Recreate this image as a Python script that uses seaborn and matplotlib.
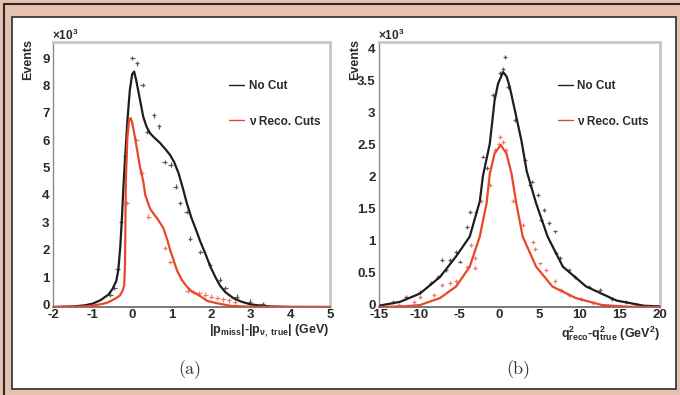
import numpy as np
import pandas as pd
import matplotlib
matplotlib.use("Agg")
import matplotlib.pyplot as plt
import seaborn as sns
from matplotlib.patches import Rectangle
from matplotlib.lines import Line2D
from matplotlib.ticker import MultipleLocator, FuncFormatter
import matplotlib.transforms as mtransforms

# ---------------- data ----------------
# (a) |p_miss|-|p_nu,true|  (x10^3 events)
a_nocut_x = [-2, -1.5, -1.2, -1.0, -0.8, -0.6, -0.5, -0.4, -0.35, -0.3, -0.26, -0.22, -0.18, -0.12, -0.06,
             0.0, 0.05, 0.1, 0.2, 0.28, 0.36, 0.45, 0.55, 0.7, 0.85, 0.96, 1.06, 1.17, 1.28, 1.38, 1.5,
             1.62, 1.72, 1.85, 1.97, 2.1, 2.22, 2.35, 2.55, 2.75, 2.98, 3.25, 3.5, 4.0, 5.0]
a_nocut_y = [0.0, 0.02, 0.06, 0.12, 0.25, 0.45, 0.65, 0.95, 1.35, 2.2, 3.2, 4.4, 5.4, 6.8, 7.9,
             8.5, 8.6, 8.3, 7.56, 6.95, 6.6, 6.35, 6.2, 6.0, 5.75, 5.55, 5.3, 4.9, 4.35, 3.8, 3.25,
             2.8, 2.4, 1.95, 1.5, 1.1, 0.78, 0.55, 0.33, 0.2, 0.1, 0.05, 0.02, 0.0, 0.0]
a_reco_x = [-2, -1.2, -1.0, -0.8, -0.64, -0.5, -0.4, -0.31, -0.24, -0.2, -0.18, -0.16, -0.12, -0.08, -0.04,
            0.0, 0.07, 0.13, 0.2, 0.28, 0.33, 0.45, 0.53, 0.65, 0.79, 0.9, 0.96, 1.05, 1.13, 1.25, 1.38,
            1.5, 1.72, 1.9, 2.2, 2.5, 3.0, 5.0]
a_reco_y = [0.0, 0.02, 0.05, 0.1, 0.15, 0.25, 0.33, 0.42, 0.6, 0.8, 1.6, 4.6, 6.2, 6.8, 6.9,
            6.75, 6.2, 5.7, 5.1, 4.6, 4.1, 3.6, 3.43, 3.2, 2.88, 2.4, 2.08, 1.7, 1.35, 1.0, 0.75,
            0.58, 0.4, 0.22, 0.12, 0.04, 0.01, 0.0]
a_nocut_px = [-0.55, -0.45, -0.37, -0.28, -0.18, 0.0, 0.12, 0.27, 0.38, 0.55, 0.68, 0.82, 0.97, 1.1,
              1.21, 1.38, 1.46, 1.72, 1.97, 2.22, 2.35, 2.64, 2.98, 3.3]
a_nocut_py = [0.45, 0.7, 1.4, 3.1, 5.5, 9.1, 8.9, 8.1, 6.4, 7.0, 6.6, 5.3, 5.2, 4.4,
              3.79, 3.48, 2.5, 2.0, 1.53, 1.0, 0.7, 0.38, 0.2, 0.1]
a_reco_px = [-0.14, 0.11, 0.24, 0.41, 0.83, 0.96, 1.4, 1.55, 1.7, 1.85, 2.0, 2.15, 2.3, 2.45, 2.6]
a_reco_py = [3.8, 6.1, 4.9, 3.3, 2.15, 1.65, 0.6, 0.55, 0.5, 0.45, 0.38, 0.33, 0.28, 0.24, 0.2]

# (b) q2_reco - q2_true  (x10^3 events)
b_nocut_x = [-15, -12.4, -9.9, -7.4, -5.4, -3.7, -2.45, -2.05, -1.2, -0.6, -0.17, 0.45, 0.9, 1.28,
             2.1, 2.74, 3.4, 4.57, 6.0, 7.9, 10.8, 14.6, 18, 20]
b_nocut_y = [0.02, 0.08, 0.21, 0.47, 0.79, 1.1, 1.65, 2.05, 2.55, 3.23, 3.49, 3.67, 3.6, 3.44,
             2.97, 2.6, 2.12, 1.62, 1.1, 0.63, 0.32, 0.1, 0.02, 0.01]
b_reco_x = [-15, -12, -9.9, -7.4, -5.4, -3.7, -2.45, -1.6, -1.2, -0.6, 0.16, 0.87, 1.5, 2.1,
            2.9, 4.57, 6.6, 9.5, 12.8, 16, 20]
b_reco_y = [0.0, 0.01, 0.03, 0.14, 0.32, 0.63, 1.1, 1.62, 2.08, 2.4, 2.53, 2.4, 2.09, 1.62,
            1.1, 0.63, 0.32, 0.14, 0.03, 0.005, 0.0]
b_nocut_px = [-13.3, -11.6, -9.9, -8.5, -7.6, -7.2, -6.6, -6.2, -5.4, -4.9, -4.1, -3.7, -2.05, -1.6,
              -0.8, 0.04, 0.5, 0.66, 1.07, 1.9, 3.15, 3.8, 4.0, 4.8, 5.2, 5.6, 6.2, 6.9, 7.1, 7.5,
              8.7, 9.4, 11.2, 12.5, 14.0, 15.8, 17.0]
b_nocut_py = [0.08, 0.16, 0.24, 0.37, 0.47, 0.73, 0.58, 0.73, 0.86, 0.71, 1.25, 1.49, 2.35, 2.17,
              3.31, 3.65, 3.72, 3.91, 3.44, 2.92, 2.29, 1.9, 1.96, 1.75, 1.36, 1.52, 1.31, 1.18, 0.84, 0.76,
              0.58, 0.47, 0.32, 0.27, 0.12, 0.08, 0.04]
b_reco_px = [-12.5, -10.7, -9.9, -8.1, -7.2, -6.2, -5.4, -4.1, -3.5, -3.1, -3.1, -2.9, -2.25, -1.2,
             -0.6, -0.1, 0.04, 0.45, 0.87, 1.7, 2.9, 4.2, 4.4, 5.0, 5.8, 6.9, 7.7, 8.7, 10.1, 11.6, 13.5]
b_reco_py = [0.03, 0.08, 0.16, 0.19, 0.34, 0.37, 0.4, 0.63, 0.97, 0.61, 0.76, 1.49, 1.65, 1.9,
             2.45, 2.55, 2.66, 2.58, 2.45, 1.65, 1.28, 1.02, 0.9, 0.68, 0.58, 0.4, 0.27, 0.19, 0.12, 0.06, 0.02]

legend_labels = ["No Cut", "\u03bd Reco. Cuts"]
xticks_a = [-2, -1, 0, 1, 2, 3, 4, 5]
xticks_b = [-15, -10, -5, 0, 5, 10, 15, 20]

# ---------------- style ----------------
sns.set_theme(style="white")
plt.rcParams['font.family'] = ['Liberation Sans', 'DejaVu Sans']
plt.rcParams['axes.unicode_minus'] = False
plt.rcParams['mathtext.fontset'] = 'custom'
plt.rcParams['mathtext.rm'] = 'Liberation Sans:bold'
plt.rcParams['mathtext.it'] = 'Liberation Sans:bold'
plt.rcParams['mathtext.bf'] = 'Liberation Sans:bold'
plt.rcParams['mathtext.default'] = 'rm'

BLACK = '#1e1e1e'
RED = '#e8472a'
PINK = '#e7c2af'
TXT = '#2a2a2a'

W, H = 680, 395
fig = plt.figure(figsize=(W / 100, H / 100), dpi=100)
fig.patch.set_facecolor(PINK)

# inner white panel and outer frame lines
fig.patches.append(Rectangle((12 / W, (H - 389) / H), (676 - 12) / W, (389 - 17) / H,
                             transform=fig.transFigure, facecolor='white', edgecolor='#3a3a3a',
                             linewidth=1.3, zorder=-10))
fig.lines.append(Line2D([4 / W, 1.0], [1 - 4 / H, 1 - 4 / H], transform=fig.transFigure,
                        color='#2a2a2a', linewidth=1.5, zorder=-10))
fig.lines.append(Line2D([4 / W, 4 / W], [0, 1 - 4 / H], transform=fig.transFigure,
                        color='#2a2a2a', linewidth=1.5, zorder=-10))


def px_axes(l, r, t, b):
    a = fig.add_axes([l / W, (H - b) / H, (r - l) / W, (b - t) / H])
    a.set_zorder(5)
    return a


ax_a = px_axes(53, 330, 42, 307)
ax_b = px_axes(379, 660, 42, 307)


def style_axes(ax, xlim, ylim, xticks, xminor, ymajor, yminor):
    ax.set_facecolor('white')
    ax.set_xlim(*xlim)
    ax.set_ylim(*ylim)
    ax.set_xticks(xticks)
    ax.xaxis.set_minor_locator(MultipleLocator(xminor))
    ax.yaxis.set_major_locator(MultipleLocator(ymajor))
    ax.yaxis.set_minor_locator(MultipleLocator(yminor))
    fmt = FuncFormatter(lambda v, p: '%g' % v)
    ax.xaxis.set_major_formatter(fmt)
    ax.yaxis.set_major_formatter(fmt)
    ax.tick_params(which='both', direction='in', top=False, right=False, colors='#4a4a4a',
                   labelcolor=TXT, labelsize=9.5)
    ax.tick_params(axis='x', which='major', length=5, width=0.9, pad=1.5)
    ax.tick_params(axis='y', which='major', length=5, width=0.9, pad=2.5)
    ax.tick_params(which='minor', length=2.5, width=0.7)
    up = mtransforms.ScaledTranslation(0, 2.5 / 100, fig.dpi_scale_trans)
    for lab in ax.get_yticklabels():
        lab.set_fontweight('bold')
        lab.set_transform(lab.get_transform() + up)
    for lab in ax.get_xticklabels():
        lab.set_fontweight('bold')
    for s in ['top', 'right']:
        ax.spines[s].set_color('#c6c6c6')
        ax.spines[s].set_linewidth(2.0)
    ax.spines['left'].set_color('#8a8a8a')
    ax.spines['left'].set_linewidth(1.0)
    ax.spines['bottom'].set_color('#555555')
    ax.spines['bottom'].set_linewidth(1.1)
    ax.set_xlabel('')
    ax.set_ylabel('')


def draw(ax, cx1, cy1, cx2, cy2, px1, py1, px2, py2, xerr, yerr):
    ax.errorbar(px1, py1, xerr=xerr, yerr=yerr, fmt='none', ecolor='#5a5a5a',
                elinewidth=0.9, capsize=0, zorder=2)
    ax.errorbar(px2, py2, xerr=xerr, yerr=yerr, fmt='none', ecolor='#ee7a62',
                elinewidth=0.9, capsize=0, zorder=2)
    sns.lineplot(x=cx1, y=cy1, ax=ax, color=BLACK, linewidth=1.6, sort=False,
                 label=legend_labels[0], zorder=3)
    sns.lineplot(x=cx2, y=cy2, ax=ax, color=RED, linewidth=1.6, sort=False,
                 label=legend_labels[1], zorder=3)


draw(ax_a, a_nocut_x, a_nocut_y, a_reco_x, a_reco_y,
     a_nocut_px, a_nocut_py, a_reco_px, a_reco_py, 0.06, 0.08)
draw(ax_b, b_nocut_x, b_nocut_y, b_reco_x, b_reco_y,
     b_nocut_px, b_nocut_py, b_reco_px, b_reco_py, 0.25, 0.03)

style_axes(ax_a, (-2, 5), (0, 9.68), xticks_a, 0.2, 1, 0.2)
style_axes(ax_b, (-15, 20), (0, 4.14), xticks_b, 1, 0.5, 0.1)

for ax, lx in [(ax_a, (224 - 53) / 277), (ax_b, (553 - 379) / 281)]:
    leg = ax.legend(loc='upper left', bbox_to_anchor=(lx - 0.02, 0.897), frameon=False,
                    handlelength=1.3, handletextpad=0.35, labelspacing=2.0,
                    prop={'weight': 'bold', 'size': 8.5, 'family': ['Liberation Sans', 'DejaVu Sans']})
    for h in leg.get_lines():
        h.set_linewidth(1.0)
    for t in leg.get_texts():
        t.set_color(TXT)

# axis titles
for ax, xoff in [(ax_a, -0.09), (ax_b, -0.085)]:
    ax.text(xoff, 1.01, 'Events', rotation=90, ha='center', va='top', transform=ax.transAxes,
            fontsize=9, fontweight='bold', color=TXT)
    ax.text(-0.005, 0.998, r'$\times10^{3}$', ha='left', va='bottom', transform=ax.transAxes,
            fontsize=8.5, color=TXT)

ax_a.text(1.0, -0.058, r'$|p_{miss}|$-$|p_{\nu,\ true}|$ (GeV)', ha='right', va='top',
          transform=ax_a.transAxes, fontsize=9, fontweight='bold', color=TXT)
ax_b.text(1.0, -0.066, r'$q^2_{reco}$-$q^2_{true}$ (GeV$^2$)', ha='right', va='top',
          transform=ax_b.transAxes, fontsize=9, fontweight='bold', color=TXT)

fig.text(190 / W, (H - 370) / H, '(a)', ha='center', va='center', fontsize=13,
         family=['cmr10', 'DejaVu Serif'], color='#333333')
fig.text(518 / W, (H - 370) / H, '(b)', ha='center', va='center', fontsize=13,
         family=['cmr10', 'DejaVu Serif'], color='#333333')

fig.savefig('out.png', dpi=100, facecolor=fig.get_facecolor())
